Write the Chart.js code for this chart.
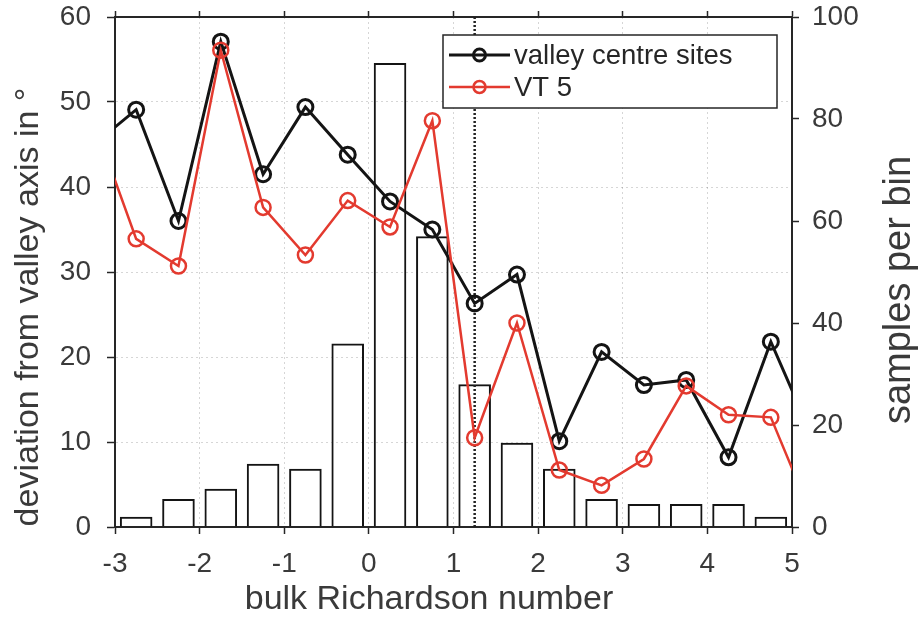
<!DOCTYPE html>
<html><head><meta charset="utf-8">
<script src="https://cdn.jsdelivr.net/npm/chart.js@4.4.1/dist/chart.umd.min.js"></script>
<style>html,body{margin:0;padding:0;background:#fff;}#wrap{width:919px;height:618px;}</style>
</head><body><div id="wrap"><canvas id="c" width="919" height="618"></canvas></div>
<script>
// ---- data ----
const binCentres = [-3.25,-2.75,-2.25,-1.75,-1.25,-0.75,-0.25,0.25,0.75,1.25,1.75,2.25,2.75,3.25,3.75,4.25,4.75,5.25];
const valleyCentre = [45,49.1,36,57.1,41.5,49.4,43.8,38.3,35,26.3,29.7,10.1,20.6,16.7,17.3,8.2,21.8,10.4];
const vt5 = [47.7,33.9,30.7,56.1,37.6,32,38.4,35.3,47.8,10.5,24,6.7,4.9,8,16.6,13.2,12.9,0.9];
const barCentres = [-2.75,-2.25,-1.75,-1.25,-0.75,-0.25,0.25,0.75,1.25,1.75,2.25,2.75,3.25,3.75,4.25,4.75];
const samplesPerBin = [2,5.5,7.5,12.4,11.4,36,91,57,28,16.5,11.4,5.5,4.5,4.5,4.5,2];
const xTicks = [-3,-2,-1,0,1,2,3,4,5];
const leftTicks = [0,10,20,30,40,50,60];
const rightTicks = [0,20,40,60,80,100];
const thresholdRi = [1.25];
const seriesNames = ['valley centre sites','VT 5'];
const xTitle = 'bulk Richardson number';
const yTitle = 'deviation from valley axis in °';
const y2Title = 'samples per bin';

// ---- style ----
const FONT = '"Liberation Sans", Arial, Helvetica, sans-serif';
const TXT = '#3a3a3a';
const AX = '#262626';
const BLK = '#141414';
const RED = '#e33a2f';
const GRID = 'rgba(0,0,0,0.16)';

const pts = (xs, ys) => xs.map((x, i) => ({x: x, y: ys[i]}));
const setTicks = arr => (s => { s.ticks = arr.map(v => ({value: v})); });
const fixBox = (w, h) => (s => {
  if (w !== null) s.width = w;
  if (h !== null) s.height = h;
  s.paddingTop = 0; s.paddingBottom = 0; s.paddingLeft = 0; s.paddingRight = 0;
});

const overlay = {
  id: 'overlay',
  afterDraw(chart) {
    const ctx = chart.ctx;
    ctx.save();
    // legend
    const bx = 443, by = 35, bw = 334, bh = 73;
    ctx.fillStyle = '#fff';
    ctx.fillRect(bx, by, bw, bh);
    ctx.strokeStyle = AX; ctx.lineWidth = 1.5;
    ctx.strokeRect(bx, by, bw, bh);
    const rows = [{name: seriesNames[0], c: BLK, y: 55, w: 3}, {name: seriesNames[1], c: RED, y: 87, w: 2.5}];
    rows.forEach(r => {
      ctx.strokeStyle = r.c; ctx.lineWidth = r.w;
      ctx.beginPath(); ctx.moveTo(449, r.y); ctx.lineTo(510, r.y); ctx.stroke();
      ctx.beginPath(); ctx.arc(479.5, r.y, 6, 0, Math.PI * 2); ctx.stroke();
      ctx.fillStyle = '#262626';
      ctx.font = '27.5px ' + FONT;
      ctx.textBaseline = 'middle'; ctx.textAlign = 'left';
      ctx.fillText(r.name, 514, r.y + 1);
    });
    // axis titles
    ctx.fillStyle = TXT;
    ctx.font = '34px ' + FONT;
    ctx.textAlign = 'center'; ctx.textBaseline = 'middle';
    ctx.fillText(xTitle, 429, 600);
    ctx.save(); ctx.translate(29, 307); ctx.rotate(-Math.PI / 2); ctx.fillText(yTitle, 0, 0); ctx.restore();
    ctx.font = '38px ' + FONT;
    ctx.save(); ctx.translate(900, 290); ctx.rotate(-Math.PI / 2); ctx.fillText(y2Title, 0, 0); ctx.restore();
    ctx.restore();
  }
};

const tickFont = {family: FONT, size: 28, lineHeight: 1.2};

new Chart(document.getElementById('c'), {
  data: {
    datasets: [
      {type: 'line', label: seriesNames[1], data: pts(binCentres, vt5), xAxisID: 'x', yAxisID: 'y',
       borderColor: RED, borderWidth: 2.5, pointRadius: 7.5, pointBorderWidth: 2.5, pointBorderColor: RED,
       pointBackgroundColor: 'rgba(0,0,0,0)', tension: 0, clip: 0, order: 1},
      {type: 'line', label: seriesNames[0], data: pts(binCentres, valleyCentre), xAxisID: 'x', yAxisID: 'y',
       borderColor: BLK, borderWidth: 3, pointRadius: 7.5, pointBorderWidth: 3, pointBorderColor: BLK,
       pointBackgroundColor: 'rgba(0,0,0,0)', tension: 0, clip: 0, order: 2},
      {type: 'line', label: 'threshold', data: [{x: thresholdRi[0], y: leftTicks[0]}, {x: thresholdRi[0], y: leftTicks[leftTicks.length - 1]}],
       xAxisID: 'x', yAxisID: 'y', borderColor: '#222', borderWidth: 2.5, borderDash: [2, 2], pointRadius: 0, clip: 0, order: 3},
      {type: 'bar', label: 'samples', data: pts(barCentres, samplesPerBin), xAxisID: 'x', yAxisID: 'y2',
       backgroundColor: 'rgba(0,0,0,0)', borderColor: BLK, borderWidth: 2, categoryPercentage: 1, barPercentage: 0.77, order: 4}
    ]
  },
  options: {
    responsive: false, animation: false, devicePixelRatio: 1,
    layout: {padding: 0},
    plugins: {legend: {display: false}, tooltip: {enabled: false}},
    scales: {
      x: {type: 'linear', position: 'bottom', min: xTicks[0], max: xTicks[xTicks.length - 1], offset: false,
          afterBuildTicks: setTicks(xTicks),
          ticks: {font: tickFont, color: TXT, padding: 13, maxRotation: 0, autoSkip: false},
          grid: {color: GRID, lineWidth: 1, tickColor: AX, tickLength: 7, tickWidth: 1.5, offset: false},
          border: {color: AX, width: 2, dash: [2, 3]},
          afterFit: fixBox(null, 91)},
      x2: {type: 'linear', position: 'top', min: xTicks[0], max: xTicks[xTicks.length - 1], offset: false,
          afterBuildTicks: setTicks(xTicks),
          ticks: {display: false},
          grid: {drawOnChartArea: false, tickColor: AX, tickLength: 6, tickWidth: 1.5, offset: false},
          border: {color: AX, width: 2},
          afterFit: fixBox(null, 17)},
      y: {type: 'linear', position: 'left', min: leftTicks[0], max: leftTicks[leftTicks.length - 1],
          afterBuildTicks: setTicks(leftTicks),
          ticks: {font: tickFont, color: TXT, padding: 16},
          grid: {color: GRID, lineWidth: 1, tickColor: AX, tickLength: 8, tickWidth: 1.5},
          border: {color: AX, width: 2, dash: [2, 3]},
          afterFit: fixBox(115, null)},
      y2: {type: 'linear', position: 'right', min: rightTicks[0], max: rightTicks[rightTicks.length - 1],
          afterBuildTicks: setTicks(rightTicks),
          ticks: {font: tickFont, color: TXT, padding: 13},
          grid: {drawOnChartArea: false, tickColor: AX, tickLength: 7, tickWidth: 1.5},
          border: {color: AX, width: 2},
          afterFit: fixBox(127, null)}
    }
  },
  plugins: [overlay]
});
</script>
</body></html>
